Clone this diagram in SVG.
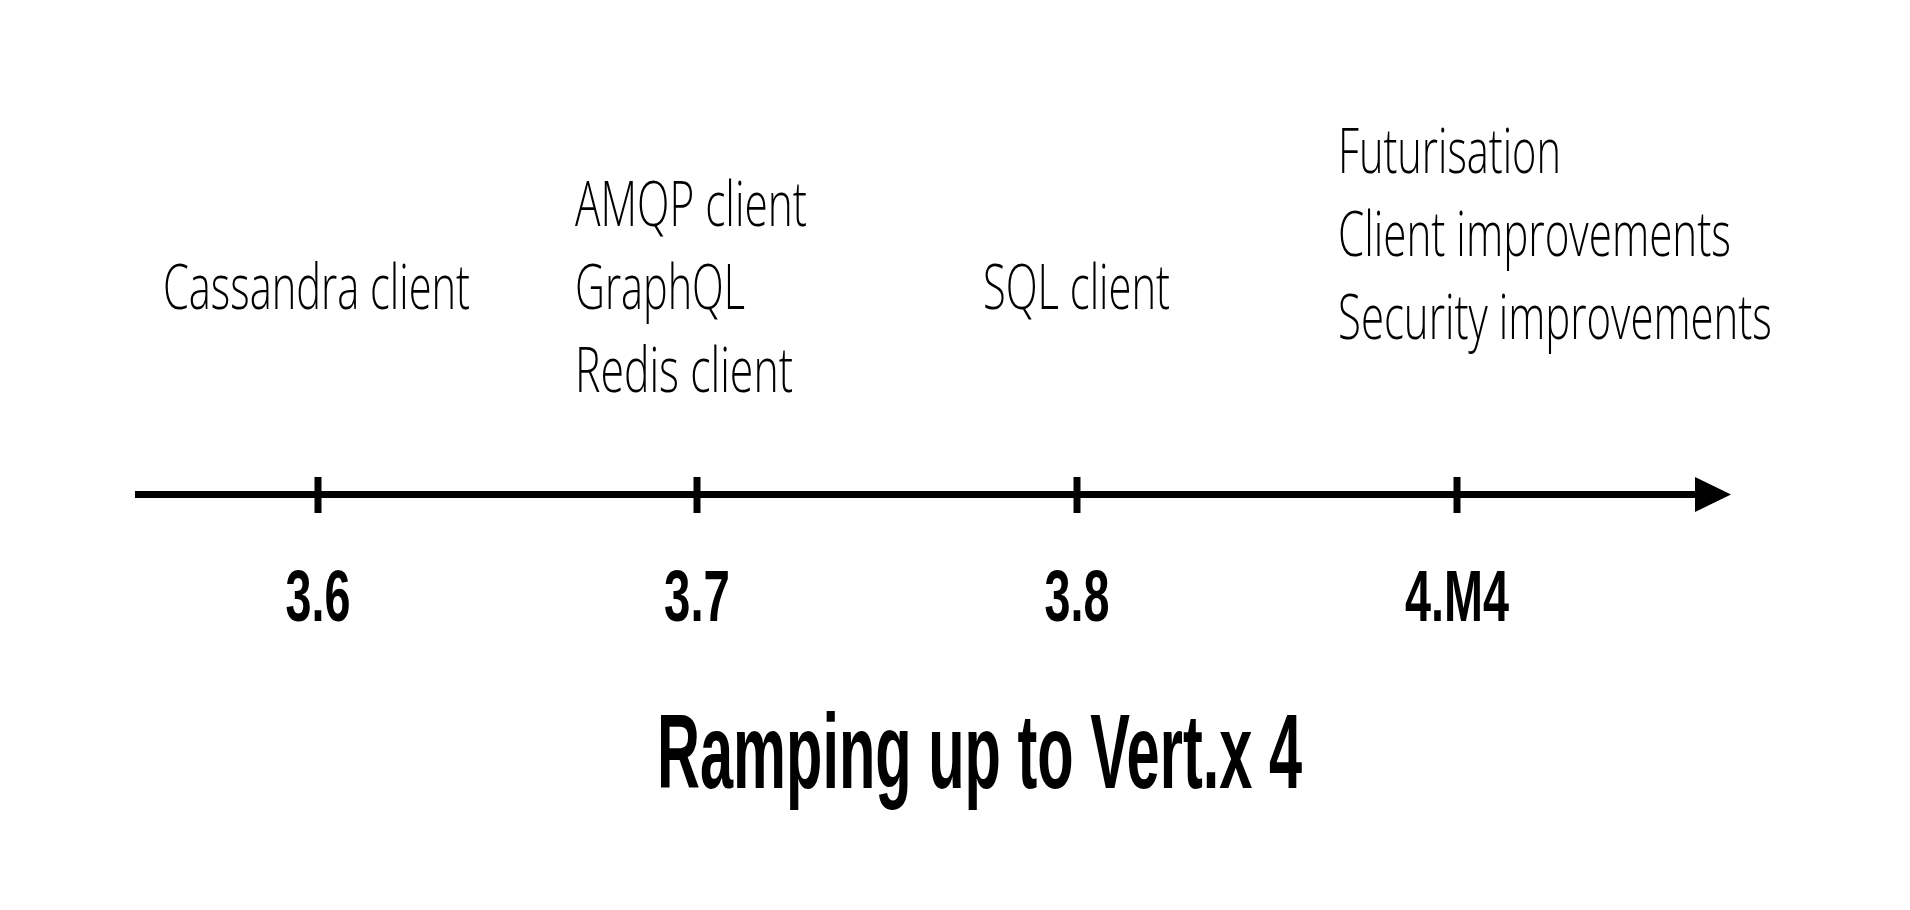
<svg xmlns="http://www.w3.org/2000/svg" width="1910" height="910" viewBox="0 0 1910 910">
  <style>
    .item { font-family: "Open Sans", "Liberation Sans", sans-serif; font-weight: 300; font-size: 62px; fill: #000; }
    .ver { font-family: "Liberation Sans", "DejaVu Sans", sans-serif; font-weight: bold; font-size: 73px; fill: #000; text-anchor: middle; }
    .title { font-family: "Liberation Sans", "DejaVu Sans", sans-serif; font-weight: bold; font-size: 105px; fill: #000; }
    .tick { stroke: #000; stroke-width: 7; }
    .axis { stroke: #000; stroke-width: 7; fill: none; }
  </style>
  <defs>
    <marker id="arrow" markerUnits="userSpaceOnUse" viewBox="0 0 36 35" refX="0" refY="17.5" markerWidth="36" markerHeight="35" orient="auto">
      <path d="M0,0 L36,17.5 L0,35 Z" fill="#000"/>
    </marker>
  </defs>
  <rect width="1910" height="910" fill="#fff"/>

  <g id="connectors">
    <line class="axis" x1="135" y1="494.5" x2="1695" y2="494.5" marker-end="url(#arrow)"/>
  </g>

  <g id="node-3-6">
    <line class="tick" x1="318" y1="477" x2="318" y2="513"/>
    <text class="ver" transform="translate(318,621) scale(0.64,1)" x="0" y="0" textLength="101.5" lengthAdjust="spacingAndGlyphs">3.6</text>
    <text class="item" transform="translate(163,309) scale(0.64,1)" x="0" y="0" textLength="479.7" lengthAdjust="spacingAndGlyphs">Cassandra client</text>
  </g>

  <g id="node-3-7">
    <line class="tick" x1="697" y1="477" x2="697" y2="513"/>
    <text class="ver" transform="translate(697,621) scale(0.64,1)" x="0" y="0" textLength="103" lengthAdjust="spacingAndGlyphs">3.7</text>
    <text class="item" transform="translate(575,226) scale(0.64,1)" x="0" y="0" textLength="362.5" lengthAdjust="spacingAndGlyphs">AMQP client</text>
    <text class="item" transform="translate(575,309) scale(0.64,1)" x="0" y="0" textLength="265.6" lengthAdjust="spacingAndGlyphs">GraphQL</text>
    <text class="item" transform="translate(575,392) scale(0.64,1)" x="0" y="0" textLength="340.6" lengthAdjust="spacingAndGlyphs">Redis client</text>
  </g>

  <g id="node-3-8">
    <line class="tick" x1="1077" y1="477" x2="1077" y2="513"/>
    <text class="ver" transform="translate(1077,621) scale(0.64,1)" x="0" y="0" textLength="101.5" lengthAdjust="spacingAndGlyphs">3.8</text>
    <text class="item" transform="translate(983,309) scale(0.64,1)" x="0" y="0" textLength="292.2" lengthAdjust="spacingAndGlyphs">SQL client</text>
  </g>

  <g id="node-4-M4">
    <line class="tick" x1="1457" y1="477" x2="1457" y2="513"/>
    <text class="ver" transform="translate(1457,621) scale(0.64,1)" x="0" y="0" textLength="162.5" lengthAdjust="spacingAndGlyphs">4.M4</text>
    <text class="item" transform="translate(1338,173) scale(0.64,1)" x="0" y="0" textLength="348.4" lengthAdjust="spacingAndGlyphs">Futurisation</text>
    <text class="item" transform="translate(1338,256) scale(0.64,1)" x="0" y="0" textLength="614" lengthAdjust="spacingAndGlyphs">Client improvements</text>
    <text class="item" transform="translate(1338,339) scale(0.64,1)" x="0" y="0" textLength="678" lengthAdjust="spacingAndGlyphs">Security improvements</text>
  </g>

  <g id="title">
    <text class="title" transform="translate(657,788) scale(0.57,1)" x="0" y="0" textLength="1131.6" lengthAdjust="spacingAndGlyphs">Ramping up to Vert.x 4</text>
  </g>
</svg>
